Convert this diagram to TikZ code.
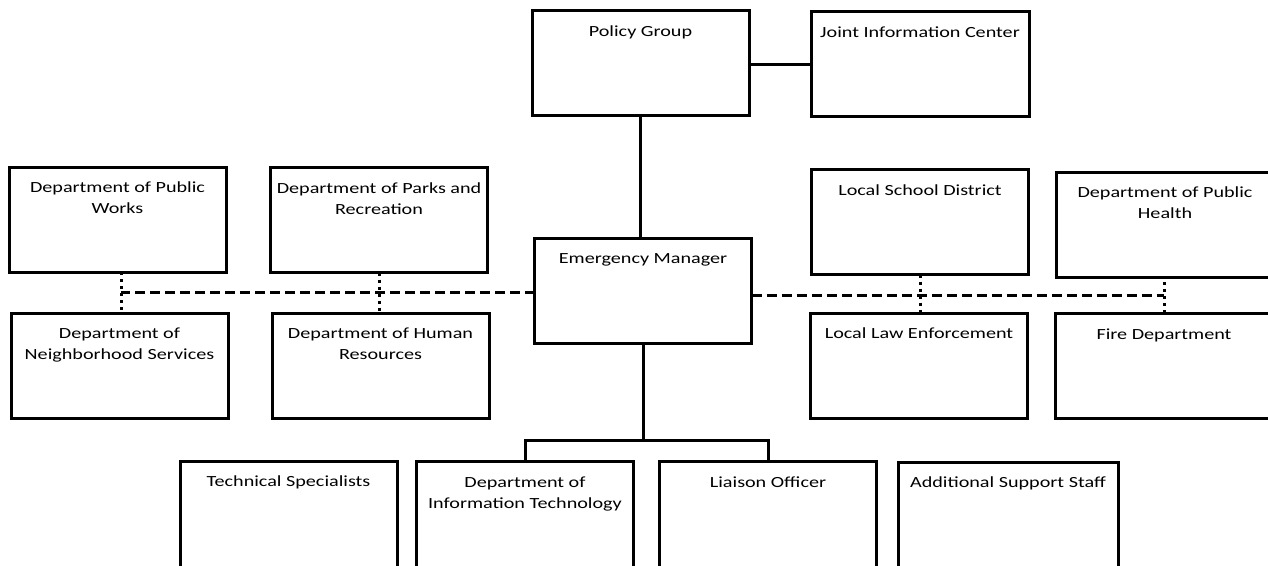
\documentclass[tikz,border=0pt]{standalone}
\usepackage{fontspec}
\setmainfont{Carlito}[FakeStretch=1.3]
\newcommand\orgfont{\fontsize{15.5}{21}\selectfont}

\begin{document}
\begin{tikzpicture}[x=1pt, y=-1pt,
  unit/.style={draw, line width=3pt, outer sep=0pt, minimum width=217pt, minimum height=105pt},
  low/.style={unit, minimum height=109pt},
  title/.style={anchor=north, inner sep=0pt, yshift=-15pt, align=center, font=\orgfont},
  link/.style={line width=3pt},
  bus/.style={line width=3pt, dash pattern=on 10pt off 5pt},
  tap/.style={line width=3pt, dash pattern=on 3pt off 4pt}]
  \clip (0,0) rectangle (1268,565);
  % command level
  \node[unit, label={[title]north:Policy Group}] (policy) at (640.5,63) {};
  \node[unit, minimum width=218pt, label={[title]north:Joint Information Center}] (jic) at (920,64) {};
  \node[unit, label={[title]north:Emergency Manager}] (em) at (643,290.5) {};
  % left departments
  \node[unit, label={[title]north:{Department of Public\\Works}}] (pubworks) at (117.5,219.5) {};
  \node[unit, label={[title]north:{Department of Parks and\\Recreation}}] (parks) at (379,220) {};
  \node[unit, label={[title]north:{Department of\\Neighborhood Services}}] (neigh) at (119.5,365.5) {};
  \node[unit, label={[title]north:{Department of Human\\Resources}}] (hr) at (380.5,365.5) {};
  % right departments
  \node[unit, label={[title]north:Local School District}] (school) at (920,222) {};
  \node[unit, label={[title]north:{Department of Public\\Health}}] (health) at (1165,224.5) {};
  \node[unit, label={[title]north:Local Law Enforcement}] (law) at (919,365.5) {};
  \node[unit, label={[title]north:Fire Department}] (fire) at (1164,366) {};
  % staff row
  \node[low, label={[title]north:Technical Specialists}] (tech) at (288.5,515.5) {};
  \node[low, label={[title]north:{Department of\\Information Technology}}] (dit) at (525,516) {};
  \node[low, label={[title]north:Liaison Officer}] (liaison) at (768,516) {};
  \node[low, minimum width=220pt, label={[title]north:Additional Support Staff}] (support) at (1008,516.5) {};

  \coordinate (wbus) at (121,292);
  \coordinate (ebus) at (1164,295);
  \coordinate (etap) at (1164,282);
  \coordinate (hub) at (643,440);

  \draw[link] (jic.west) -- (jic.west -| policy.east);
  \draw[link] (policy.south) -- (policy.south |- em.north);
  \draw[link] (em.south) -- (hub);
  \draw[link] (dit.north) |- (hub) -| (liaison.north);

  \draw[bus] (wbus -| em.west) -- (wbus);
  \draw[tap] (wbus |- pubworks.south) -- (wbus |- neigh.north);
  \draw[tap] (parks.south) -- (parks.south |- hr.north);
  \draw[bus] (ebus -| em.east) -- (ebus);
  \draw[tap] (school.south) -- (school.south |- law.north);
  \draw[tap] (etap) -- (etap |- fire.north);
\end{tikzpicture}
\end{document}
